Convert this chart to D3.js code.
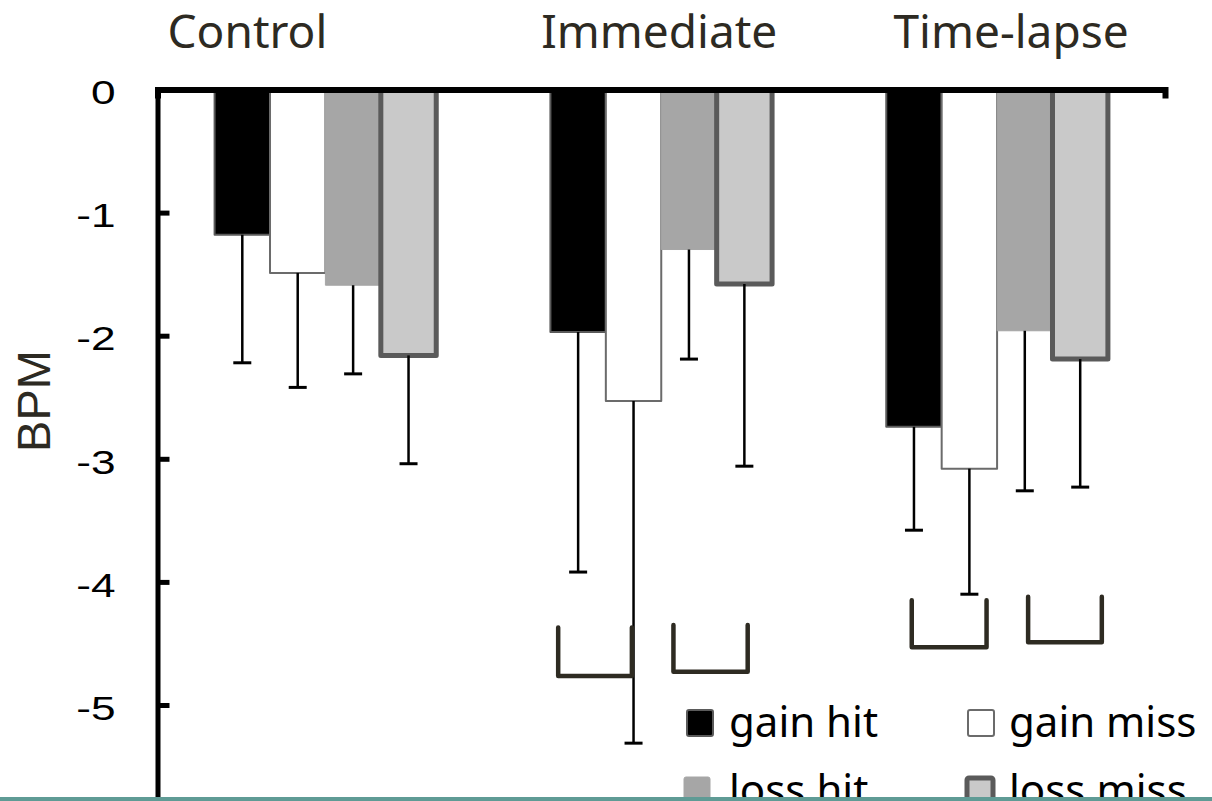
<!DOCTYPE html>
<html>
<head>
<meta charset="utf-8">
<script src="https://cdn.jsdelivr.net/npm/d3@7"></script>
<style>
  html, body { margin: 0; padding: 0; background: #fff; overflow: hidden; }
  svg { display: block; }
</style>
</head>
<body>
<svg id="chart" width="1212" height="801"></svg>
<script>
// Heart-rate change (BPM) by condition and outcome type
const groups = ["Control", "Immediate", "Time-lapse"];
const seriesNames = ["gain hit", "gain miss", "loss hit", "loss miss"];

const gainHit  = [-1.18, -1.97, -2.74];
const gainMiss = [-1.49, -2.53, -3.08];
const lossHit  = [-1.59, -1.30, -1.96];
const lossMiss = [-2.16, -1.58, -2.19];

// error bar lengths (drawn downward from each mean)
const gainHitErr  = [1.04, 1.95, 0.84];
const gainMissErr = [0.93, 2.78, 1.02];
const lossHitErr  = [0.72, 0.89, 1.30];
const lossMissErr = [0.88, 1.48, 1.04];

const yTicks = [0, -1, -2, -3, -4, -5];

// comparison brackets: span in bar slots within the group, top/bottom in BPM
const brackets = [
  { group: "Immediate",  from: 0.14, to: 1.47, top: -4.37, bottom: -4.765 },
  { group: "Immediate",  from: 2.22, to: 3.56, top: -4.35, bottom: -4.73 },
  { group: "Time-lapse", from: 0.46, to: 1.81, top: -4.15, bottom: -4.53 },
  { group: "Time-lapse", from: 2.56, to: 3.89, top: -4.12, bottom: -4.49 }
];

const means = [gainHit, gainMiss, lossHit, lossMiss];
const errs = [gainHitErr, gainMissErr, lossHitErr, lossMissErr];

const seriesStyle = {
  "gain hit":  { fill: "#000000", stroke: "#5a5a5a", sw: 2 },
  "gain miss": { fill: "#ffffff", stroke: "#6b6b6b", sw: 2 },
  "loss hit":  { fill: "#a6a6a6", stroke: "#a6a6a6", sw: 1 },
  "loss miss": { fill: "#c9c9c9", stroke: "#5a5a5a", sw: 5 }
};

const rows = [];
groups.forEach((g, gi) => {
  seriesNames.forEach((s, si) => {
    rows.push({ group: g, series: s, value: means[si][gi], err: errs[si][gi] });
  });
});

const svg = d3.select("#chart");

const x0 = d3.scaleBand().domain(groups).range([157.5, 1165])
  .paddingInner(0.34).paddingOuter(0.17);
const x1 = d3.scaleBand().domain(seriesNames).range([0, x0.bandwidth()]);
const slot = x1.step();
const y = d3.scaleLinear().domain([0, -6]).range([89.5, 89.5 + 6 * 123.1]);

// bars
const bars = svg.append("g");
bars.selectAll("rect").data(rows).join("rect")
  .attr("x", d => x0(d.group) + x1(d.series))
  .attr("y", y(0))
  .attr("width", x1.bandwidth())
  .attr("height", d => y(d.value) - y(0))
  .attr("fill", d => seriesStyle[d.series].fill)
  .attr("stroke", d => seriesStyle[d.series].stroke)
  .attr("stroke-width", d => seriesStyle[d.series].sw)
  .attr("stroke-linejoin", "round");

// error bars
const eb = svg.append("g").attr("stroke", "#000");
const cx = d => x0(d.group) + x1(d.series) + x1.bandwidth() / 2;
eb.selectAll("line.stem").data(rows).join("line").attr("class", "stem")
  .attr("x1", cx).attr("x2", cx)
  .attr("y1", d => y(d.value))
  .attr("y2", d => y(d.value - d.err))
  .attr("stroke-width", 2.5);
eb.selectAll("line.cap").data(rows).join("line").attr("class", "cap")
  .attr("x1", d => cx(d) - 9).attr("x2", d => cx(d) + 9)
  .attr("y1", d => y(d.value - d.err))
  .attr("y2", d => y(d.value - d.err))
  .attr("stroke-width", 3);

// significance brackets
const bg = svg.append("g")
  .attr("fill", "none").attr("stroke", "#2e2b22")
  .attr("stroke-width", 4.5).attr("stroke-linejoin", "round").attr("stroke-linecap", "round");
bg.selectAll("path").data(brackets).join("path")
  .attr("d", b => {
    const xa = x0(b.group) + b.from * slot;
    const xb = x0(b.group) + b.to * slot;
    return `M${xa},${y(b.top)}V${y(b.bottom)}H${xb}V${y(b.top)}`;
  });

// y axis
const yAxis = svg.append("g").attr("transform", "translate(157.5,0)")
  .call(d3.axisLeft(y).tickValues(yTicks).tickSizeInner(-12).tickSizeOuter(0)
    .tickFormat(d => String(d)));
yAxis.select(".domain").attr("stroke", "#000").attr("stroke-width", 5);
yAxis.selectAll(".tick line").attr("stroke", "#000").attr("stroke-width", 5);
yAxis.selectAll(".tick text")
  .attr("x", 0)
  .attr("dy", "0.42em")
  .attr("transform", "translate(-42,0) scale(1.3,1)")
  .attr("fill", "#000")
  .style("font-family", "'Liberation Sans', Arial, sans-serif")
  .style("font-size", "34px");

// category axis along zero
const xAxis = svg.append("g").attr("transform", `translate(0,${y(0)})`)
  .call(d3.axisBottom(x0).tickSizeInner(0).tickSizeOuter(9).tickFormat(""));
xAxis.select(".domain").attr("stroke", "#000").attr("stroke-width", 6);
xAxis.selectAll(".tick").remove();

// condition headers
const headerOffsets = [-78, -2, 14];
svg.append("g").selectAll("text").data(groups).join("text")
  .attr("x", (g, i) => x0(g) + x0.bandwidth() / 2 + headerOffsets[i])
  .attr("y", 48)
  .attr("text-anchor", "middle")
  .attr("fill", "#2d2a22")
  .style("font-family", "'Noto Sans', 'Open Sans', sans-serif")
  .style("font-size", "46px")
  .text(g => g);

// y axis title
svg.append("text")
  .attr("transform", "translate(50,401) rotate(-90)")
  .attr("text-anchor", "middle")
  .attr("fill", "#2d2a22")
  .style("font-family", "'Liberation Sans', Arial, sans-serif")
  .style("font-size", "47px")
  .text("BPM");

// legend (2 x 2); the second row runs past the bottom edge of the frame
const legendPos = [
  { sx: 687, sy: 710, tx: 729, ty: 737 },
  { sx: 968, sy: 710, tx: 1009, ty: 737 },
  { sx: 684, sy: 777, tx: 729, ty: 805 },
  { sx: 967, sy: 778, tx: 1009, ty: 805 }
];
const lg = svg.append("g");
seriesNames.forEach((s, i) => {
  const p = legendPos[i], st = seriesStyle[s];
  lg.append("rect")
    .attr("x", p.sx).attr("y", p.sy).attr("width", 26).attr("height", 26)
    .attr("rx", 2)
    .attr("fill", st.fill).attr("stroke", st.stroke).attr("stroke-width", st.sw);
  lg.append("text")
    .attr("x", p.tx).attr("y", p.ty)
    .attr("fill", "#000")
    .style("font-family", "'Noto Sans', 'Open Sans', sans-serif")
    .style("font-size", "42px")
    .text(s);
});

// frame edge along the bottom
svg.append("rect").attr("x", 0).attr("y", 797).attr("width", 1212).attr("height", 4)
  .attr("fill", "#5f9b95");
</script>
</body>
</html>
